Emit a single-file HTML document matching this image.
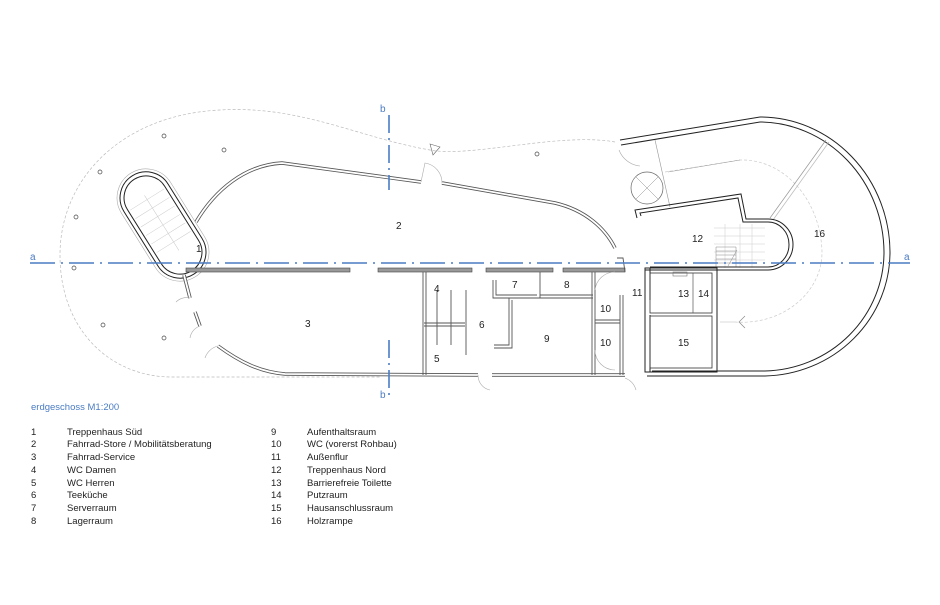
<!DOCTYPE html>
<html><head><meta charset="utf-8"><style>
body{margin:0;background:#fff}
svg{display:block}
text{font-family:"Liberation Sans",sans-serif;}
</style></head><body>
<svg width="940" height="605" viewBox="0 0 940 605" xmlns="http://www.w3.org/2000/svg">
<rect width="940" height="605" fill="#fff"/>
<!-- dashed outer boundary -->
<path d="M615 142 C560 132 470 158 430 150 C360 138 300 105 220 110 C120 115 60 180 60 255 C60 330 110 376 170 377 L380 377" fill="none" stroke="#bbb" stroke-width="0.7" stroke-dasharray="3,2"/>
<!-- outer right building -->
<path d="M620 140 L760 117 A130 136 0 0 1 890 252 A128 124 0 0 1 765 376 L647 376" fill="none" stroke="#222" stroke-width="1"/>
<path d="M621 145 L760 122 A125 131 0 0 1 884 252 A122 119 0 0 1 765 371 L652 371" fill="none" stroke="#222" stroke-width="1"/>
<!-- dashed ramp inner curve -->
<path d="M665 172 L740 160 A80 95 0 0 1 822 252 A80 70 0 0 1 735 322" fill="none" stroke="#ccc" stroke-width="0.7" stroke-dasharray="3,2"/>
<path d="M735 322 L720 322" stroke="#ccc" stroke-width="0.7"/>
<path d="M745 316 L739 322 L745 328" fill="none" stroke="#888" stroke-width="0.7"/>
<line x1="770" y1="218" x2="826" y2="140" stroke="#999" stroke-width="0.7"/>
<line x1="773" y1="220" x2="829" y2="142" stroke="#bbb" stroke-width="0.7"/>
<line x1="655" y1="140" x2="670" y2="207" stroke="#999" stroke-width="0.6"/>
<line x1="668" y1="172" x2="740" y2="160" stroke="#999" stroke-width="0.6"/>
<circle cx="647" cy="188" r="16" fill="none" stroke="#666" stroke-width="0.7"/>
<path d="M636 177 L658 199 M658 177 L636 199" stroke="#888" stroke-width="0.5"/>
<path d="M619 150 A25 25 0 0 0 640 166" fill="none" stroke="#aaa" stroke-width="0.6"/>
<!-- stair 12 hatch -->
<g stroke="#ccc" stroke-width="0.5" fill="none">
<path d="M714 228 L765 228 M714 236 L765 236 M714 244 L765 244 M714 252 L765 252 M714 260 L765 260 M725 224 L725 268 M740 224 L740 268 M752 224 L752 268"/>
</g>
<g stroke="#888" stroke-width="0.5" fill="none"><path d="M716 247 L736 247 L736 267 L716 267 Z M716 251 L736 251 M716 255 L736 255 M716 259 L736 259 M716 263 L736 263 M728 266 L737 250"/></g>
<!-- inner building 12 walls -->
<g fill="none" stroke="#222" stroke-width="1">
<path d="M637 218 L635 210 L741 194 L746 219 L768 219 A25 25.5 0 0 1 768 270 L645 270"/>
<path d="M641 216 L640 213 L738 198 L743 222 L768 222 A21 22.5 0 0 1 768 267 L650 267"/>
</g>
<path d="M645 268 L645 300 M650 268 L650 300 M645 315 L645 372 M650 315 L650 372" stroke="#222" stroke-width="1"/>
<rect x="645" y="268" width="72" height="104" fill="none" stroke="#222" stroke-width="1"/>
<rect x="650" y="273" width="62" height="40" fill="none" stroke="#333" stroke-width="0.8"/>
<rect x="650" y="316" width="62" height="52" fill="none" stroke="#333" stroke-width="0.8"/>
<line x1="717" y1="268" x2="717" y2="372" stroke="#222" stroke-width="1"/>
<line x1="693" y1="273" x2="693" y2="313" stroke="#555" stroke-width="0.7"/>
<rect x="673" y="272" width="14" height="4" fill="none" stroke="#777" stroke-width="0.6"/>
<!-- stair 1 capsule -->
<g transform="translate(163,225) rotate(58)" fill="none" stroke="#222">
<rect x="-58" y="-26" width="116" height="52" rx="26" stroke-width="1"/>
<rect x="-54" y="-22" width="108" height="44" rx="22" stroke-width="1"/>
<rect x="-61" y="-29" width="122" height="58" rx="29" stroke="#aaa" stroke-width="0.6"/>
<g stroke="#ccc" stroke-width="0.5"><path d="M-30 -20 L-30 20 M-20 -20 L-20 20 M-10 -20 L-10 20 M0 -20 L0 20 M10 -20 L10 20 M20 -20 L20 20 M-35 0 L30 0"/></g>
</g>
<!-- wall 2 top -->
<g fill="none">
<path d="M196 222 C215 190 245 165 282 163 L421 182" stroke="#555" stroke-width="3.5"/>
<path d="M196 222 C215 190 245 165 282 163 L421 182" stroke="#fff" stroke-width="1.8"/>
<path d="M442 183 L555 203 C585 210 605 228 615 248" stroke="#555" stroke-width="3.5"/>
<path d="M442 183 L555 203 C585 210 605 228 615 248" stroke="#fff" stroke-width="1.8"/>
<path d="M421 182 L425 163 A20 20 0 0 1 442 183" stroke="#aaa" stroke-width="0.6"/>
<path d="M218 346 C240 362 260 372 285 374 L478 375" stroke="#555" stroke-width="3.5"/>
<path d="M218 346 C240 362 260 372 285 374 L478 375" stroke="#fff" stroke-width="1.8"/>
<path d="M492 375 L625 375" stroke="#555" stroke-width="3.5"/>
<path d="M492 375 L625 375" stroke="#fff" stroke-width="1.8"/>
<path d="M184 275 L190 298 M195 312 L200 326" stroke="#555" stroke-width="3.5"/>
<path d="M184 275 L190 298 M195 312 L200 326" stroke="#fff" stroke-width="1.8"/>
<path d="M190 298 A15 15 0 0 0 176 302 M200 326 A15 15 0 0 0 190 338 M218 346 A18 18 0 0 0 205 358" stroke="#aaa" stroke-width="0.6"/>
</g>
<!-- horizontal wall y=270 -->
<g fill="#999" stroke="#444" stroke-width="0.6">
<rect x="186" y="268" width="164" height="4"/>
<rect x="378" y="268" width="94" height="4"/>
<rect x="486" y="268" width="67" height="4"/>
<rect x="563" y="268" width="62" height="4"/>
</g>
<!-- internal walls -->
<g fill="none" stroke="#555" stroke-width="0.9">
<path d="M423 272 L423 375 M426 272 L426 375"/>
<path d="M437 290 L437 345 M451 290 L451 345 M466 290 L466 355"/>
<path d="M424 323 L465 323 M424 326 L465 326"/>
<path d="M493 280 L493 298 L540 298 L540 272 M496 280 L496 295 L537 295 M540 298 L593 298 M540 295 L593 295"/>
<path d="M509 298 L509 345 L494 345 M512 300 L512 348 L494 348"/>
<path d="M592 272 L592 375 M595 272 L595 375"/>
<path d="M595 320 L620 320 M595 323 L620 323"/>
<path d="M620 295 L620 375 M623 295 L623 375"/>
<path d="M617 258 L623 258 L625 272"/>
</g>
<path d="M595 290 A20 20 0 0 1 615 272 M595 350 A20 20 0 0 0 615 370 M478 375 A15 15 0 0 0 490 390 M625 378 A18 18 0 0 1 636 390" fill="none" stroke="#aaa" stroke-width="0.6"/>
<!-- blue axes -->
<g stroke="#4a7cc4" stroke-width="1.6" fill="none">
<path d="M30 263 L910 263" stroke-dasharray="25,6,2,6"/>
<path d="M389 115 L389 190 M389 340 L389 395" stroke-dasharray="18,5,2,5"/>
</g>
<g fill="#4a7cc4" font-size="10">
<text x="30" y="260">a</text><text x="904" y="260">a</text>
<text x="380" y="112">b</text><text x="380" y="398">b</text>
<text x="31" y="410" font-size="9.5">erdgeschoss M1:200</text>
</g>
<!-- columns -->
<g fill="none" stroke="#444" stroke-width="0.7">
<circle cx="164" cy="136" r="2"/><circle cx="224" cy="150" r="2"/><circle cx="100" cy="172" r="2"/><circle cx="76" cy="217" r="2"/><circle cx="74" cy="268" r="2"/><circle cx="103" cy="325" r="2"/><circle cx="164" cy="338" r="2"/><circle cx="537" cy="154" r="2"/>
</g>
<path d="M430 144 L440 147 L433 155 Z" fill="none" stroke="#666" stroke-width="0.6"/>
<!-- room numbers -->
<g font-size="10" fill="#222">
<text x="196" y="252">1</text><text x="396" y="229">2</text><text x="305" y="327">3</text>
<text x="434" y="292">4</text><text x="434" y="362">5</text><text x="479" y="328">6</text>
<text x="512" y="288">7</text><text x="564" y="288">8</text><text x="544" y="342">9</text>
<text x="600" y="312">10</text><text x="600" y="346">10</text><text x="632" y="296">11</text>
<text x="692" y="242">12</text><text x="678" y="297">13</text><text x="698" y="297">14</text>
<text x="678" y="346">15</text><text x="814" y="237">16</text>
</g>
<!-- legend -->
<g font-size="9.5" fill="#222">
<text x="31" y="435">1</text><text x="67" y="435">Treppenhaus Süd</text>
<text x="31" y="447">2</text><text x="67" y="447">Fahrrad-Store / Mobilitätsberatung</text>
<text x="31" y="460">3</text><text x="67" y="460">Fahrrad-Service</text>
<text x="31" y="473">4</text><text x="67" y="473">WC Damen</text>
<text x="31" y="486">5</text><text x="67" y="486">WC Herren</text>
<text x="31" y="498">6</text><text x="67" y="498">Teeküche</text>
<text x="31" y="511">7</text><text x="67" y="511">Serverraum</text>
<text x="31" y="524">8</text><text x="67" y="524">Lagerraum</text>
<text x="271" y="435">9</text><text x="307" y="435">Aufenthaltsraum</text>
<text x="271" y="447">10</text><text x="307" y="447">WC (vorerst Rohbau)</text>
<text x="271" y="460">11</text><text x="307" y="460">Außenflur</text>
<text x="271" y="473">12</text><text x="307" y="473">Treppenhaus Nord</text>
<text x="271" y="486">13</text><text x="307" y="486">Barrierefreie Toilette</text>
<text x="271" y="498">14</text><text x="307" y="498">Putzraum</text>
<text x="271" y="511">15</text><text x="307" y="511">Hausanschlussraum</text>
<text x="271" y="524">16</text><text x="307" y="524">Holzrampe</text>
</g>
</svg>
</body></html>
